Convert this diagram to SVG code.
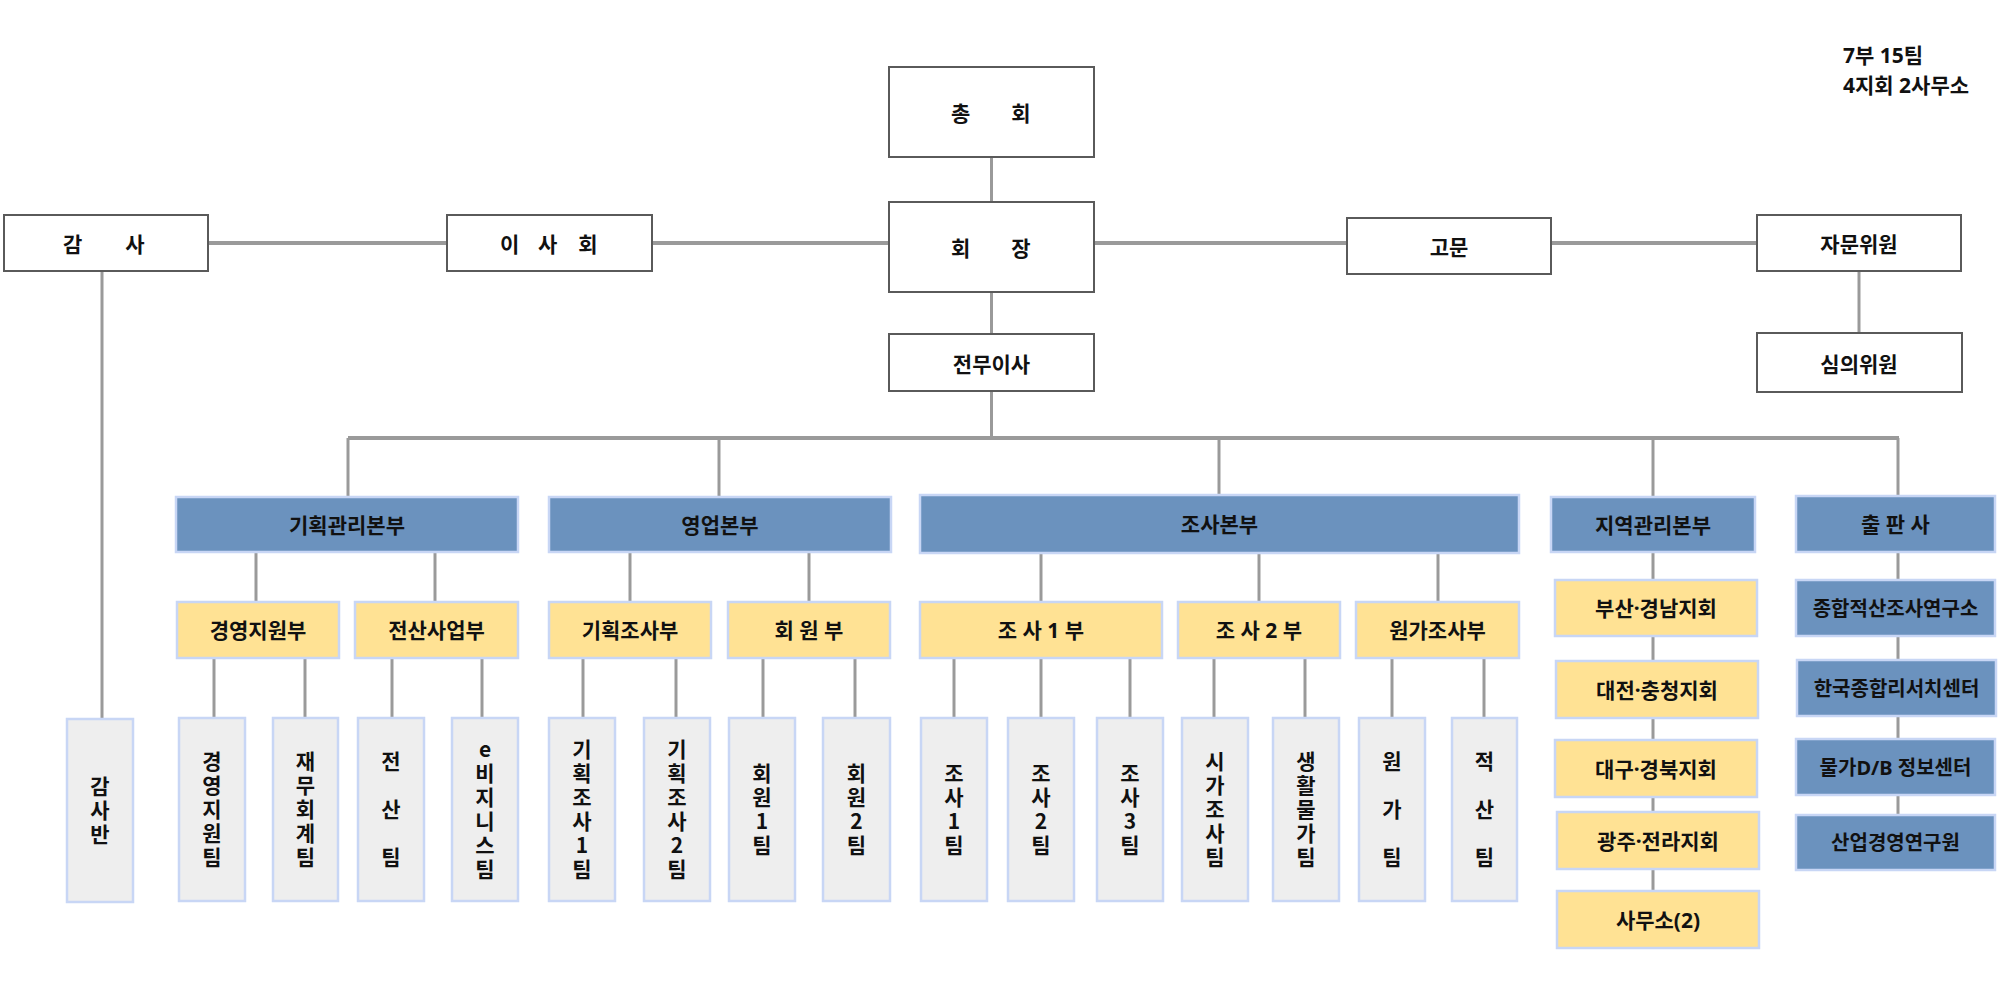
<svg xmlns="http://www.w3.org/2000/svg" width="2000" height="1000" viewBox="0 0 2000 1000">
<style>
text{font-family:"Noto Sans CJK KR","Noto Sans",sans-serif;font-weight:700;fill:#111;text-anchor:middle;dominant-baseline:central}
.t{font-size:21px}
.top rect{fill:#fff;stroke:#5a5a5a;stroke-width:2}
.b rect{fill:#6b92be;stroke:#c8d6f5;stroke-width:2.5}
.y rect{fill:#ffe294;stroke:#c8d6f5;stroke-width:2.5}
.g rect{fill:#eeeeee;stroke:#c8d6f5;stroke-width:2.5}
.b text,.y text{font-size:21px;font-family:"Noto Sans","Noto Sans CJK KR",sans-serif}
.g text{font-size:21px;writing-mode:vertical-rl;text-orientation:upright;letter-spacing:3px}
#connectors line{stroke:#9a9a9a;stroke-width:3}
#connectors line.h{stroke-width:4}
.note{text-anchor:start;dominant-baseline:auto;font-size:21px;font-family:"Noto Sans","Noto Sans CJK KR",sans-serif}
</style>
<rect width="2000" height="1000" fill="#fff"/>
<g id="connectors">
<line x1="991.5" y1="157" x2="991.5" y2="202"/>
<line x1="991.5" y1="292" x2="991.5" y2="334"/>
<line x1="991.5" y1="391" x2="991.5" y2="438"/>
<line class="h" x1="208" y1="243" x2="447" y2="243"/>
<line class="h" x1="652" y1="243" x2="889" y2="243"/>
<line class="h" x1="1094" y1="243" x2="1347" y2="243"/>
<line class="h" x1="1551" y1="243" x2="1757" y2="243"/>
<line x1="1859" y1="271" x2="1859" y2="333"/>
<line x1="102" y1="271" x2="102" y2="718"/>
<line class="h" x1="348" y1="438" x2="1899" y2="438"/>
<line x1="348" y1="438" x2="348" y2="497"/>
<line x1="719" y1="438" x2="719" y2="497"/>
<line x1="1219" y1="438" x2="1219" y2="495"/>
<line x1="1653" y1="438" x2="1653" y2="497"/>
<line x1="1898" y1="438" x2="1898" y2="496"/>
<line x1="256" y1="552" x2="256" y2="602"/>
<line x1="435" y1="552" x2="435" y2="602"/>
<line x1="630" y1="552" x2="630" y2="602"/>
<line x1="809" y1="552" x2="809" y2="602"/>
<line x1="1041" y1="553" x2="1041" y2="602"/>
<line x1="1259" y1="553" x2="1259" y2="602"/>
<line x1="1438" y1="553" x2="1438" y2="602"/>
<line x1="214" y1="658" x2="214" y2="718"/>
<line x1="305" y1="658" x2="305" y2="718"/>
<line x1="392" y1="658" x2="392" y2="718"/>
<line x1="482" y1="658" x2="482" y2="718"/>
<line x1="583" y1="658" x2="583" y2="718"/>
<line x1="676" y1="658" x2="676" y2="718"/>
<line x1="763" y1="658" x2="763" y2="718"/>
<line x1="855" y1="658" x2="855" y2="718"/>
<line x1="954" y1="658" x2="954" y2="718"/>
<line x1="1041" y1="658" x2="1041" y2="718"/>
<line x1="1130" y1="658" x2="1130" y2="718"/>
<line x1="1214" y1="658" x2="1214" y2="718"/>
<line x1="1305" y1="658" x2="1305" y2="718"/>
<line x1="1392" y1="658" x2="1392" y2="718"/>
<line x1="1484" y1="658" x2="1484" y2="718"/>
<line x1="1653" y1="552" x2="1653" y2="891"/>
<line x1="1898" y1="552" x2="1898" y2="815"/>
</g>

<text class="note" x="1843" y="63">7부 15팀</text>
<text class="note" x="1843" y="93">4지회 2사무소</text>

<g id="n-chonghoe" class="top"><rect x="889" y="67" width="205" height="90"/><text class="t" y="112"><tspan x="963">총</tspan> <tspan x="1021">회</tspan></text></g>
<g id="n-hoejang" class="top"><rect x="889" y="202" width="205" height="90"/><text class="t" y="247"><tspan x="963">회</tspan> <tspan x="1021">장</tspan></text></g>
<g id="n-jeonmu" class="top"><rect x="889" y="334" width="205" height="57"/><text class="t" x="991.5" y="362.5">전무이사</text></g>
<g id="n-gamsa" class="top"><rect x="4" y="215" width="204" height="56"/><text class="t" y="243"><tspan x="75">감</tspan> <tspan x="135">사</tspan></text></g>
<g id="n-isahoe" class="top"><rect x="447" y="215" width="205" height="56"/><text class="t" y="243"><tspan x="512">이</tspan> <tspan x="550">사</tspan> <tspan x="588">회</tspan></text></g>
<g id="n-gomun" class="top"><rect x="1347" y="218" width="204" height="56"/><text class="t" x="1449" y="246">고문</text></g>
<g id="n-jamun" class="top"><rect x="1757" y="215" width="204" height="56"/><text class="t" x="1859" y="243">자문위원</text></g>
<g id="n-simui" class="top"><rect x="1757" y="333" width="205" height="59"/><text class="t" x="1859" y="362.5">심의위원</text></g>

<g id="n-gihoekgwanri" class="b"><rect x="176" y="497" width="342" height="55"/><text x="347" y="524.5">기획관리본부</text></g>
<g id="n-yeongeop" class="b"><rect x="549" y="497" width="342" height="55"/><text x="720" y="524.5">영업본부</text></g>
<g id="n-josa" class="b"><rect x="920" y="495" width="599" height="58"/><text x="1219.5" y="524">조사본부</text></g>
<g id="n-jiyeok" class="b"><rect x="1551" y="497" width="204" height="55"/><text x="1653" y="524.5">지역관리본부</text></g>
<g id="n-chulpan" class="b"><rect x="1796" y="496" width="199" height="56"/><text x="1895.5" y="524">출 판 사</text></g>

<g id="n-gyeongyeongjiwonbu" class="y"><rect x="177" y="602" width="162" height="56"/><text x="258" y="630">경영지원부</text></g>
<g id="n-jeonsansaeopbu" class="y"><rect x="355" y="602" width="163" height="56"/><text x="436.5" y="630">전산사업부</text></g>
<g id="n-gihoekjosabu" class="y"><rect x="549" y="602" width="162" height="56"/><text x="630" y="630">기획조사부</text></g>
<g id="n-hoewonbu" class="y"><rect x="728" y="602" width="162" height="56"/><text x="809" y="630">회 원 부</text></g>
<g id="n-josa1bu" class="y"><rect x="920" y="602" width="242" height="56"/><text x="1041" y="630">조 사 1 부</text></g>
<g id="n-josa2bu" class="y"><rect x="1178" y="602" width="162" height="56"/><text x="1259" y="630">조 사 2 부</text></g>
<g id="n-wongajosabu" class="y"><rect x="1356" y="602" width="163" height="56"/><text x="1437.5" y="630">원가조사부</text></g>

<g id="n-busan" class="y"><rect x="1555" y="580" width="202" height="56"/><text x="1656" y="608">부산·경남지회</text></g>
<g id="n-daejeon" class="y"><rect x="1556" y="661" width="202" height="57"/><text x="1657" y="689.5">대전·충청지회</text></g>
<g id="n-daegu" class="y"><rect x="1555" y="740" width="202" height="57"/><text x="1656" y="768.5">대구·경북지회</text></g>
<g id="n-gwangju" class="y"><rect x="1557" y="812" width="202" height="57"/><text x="1658" y="840.5">광주·전라지회</text></g>
<g id="n-samuso" class="y"><rect x="1557" y="891" width="202" height="57"/><text x="1658" y="919.5">사무소(2)</text></g>

<g id="n-jonghapjeoksan" class="b"><rect x="1796" y="580" width="199" height="56"/><text x="1895.5" y="608" style="font-size:20px">종합적산조사연구소</text></g>
<g id="n-hanguk" class="b"><rect x="1797" y="660" width="199" height="56"/><text x="1896.5" y="688" style="font-size:20px">한국종합리서치센터</text></g>
<g id="n-mulga" class="b"><rect x="1796" y="739" width="199" height="56"/><text x="1895.5" y="767" style="font-size:20px">물가D/B 정보센터</text></g>
<g id="n-saneop" class="b"><rect x="1796" y="815" width="199" height="55"/><text x="1895.5" y="842.5" style="font-size:20px">산업경영연구원</text></g>

<g id="n-gamsaban" class="g"><rect x="67" y="719" width="66" height="183"/><text x="100" y="811.5">감사반</text></g>
<g id="n-gyeongyeongjiwontim" class="g"><rect x="179" y="718" width="66" height="183"/><text x="212" y="811">경영지원팀</text></g>
<g id="n-jaemuhoegyetim" class="g"><rect x="273" y="718" width="65" height="183"/><text x="305.5" y="811">재무회계팀</text></g>
<g id="n-jeonsantim" class="g"><rect x="358" y="718" width="66" height="183"/><text x="391" y="811">전 산 팀</text></g>
<g id="n-ebiz" class="g"><rect x="452" y="718" width="66" height="183"/><text x="485" y="811">e비지니스팀</text></g>
<g id="n-gihoekjosa1" class="g"><rect x="549" y="718" width="66" height="183"/><text x="582" y="811">기획조사1팀</text></g>
<g id="n-gihoekjosa2" class="g"><rect x="644" y="718" width="66" height="183"/><text x="677" y="811">기획조사2팀</text></g>
<g id="n-hoewon1" class="g"><rect x="729" y="718" width="66" height="183"/><text x="762" y="811">회원1팀</text></g>
<g id="n-hoewon2" class="g"><rect x="823" y="718" width="67" height="183"/><text x="856.5" y="811">회원2팀</text></g>
<g id="n-josa1tim" class="g"><rect x="921" y="718" width="66" height="183"/><text x="954" y="811">조사1팀</text></g>
<g id="n-josa2tim" class="g"><rect x="1008" y="718" width="66" height="183"/><text x="1041" y="811">조사2팀</text></g>
<g id="n-josa3tim" class="g"><rect x="1097" y="718" width="66" height="183"/><text x="1130" y="811">조사3팀</text></g>
<g id="n-sigajosatim" class="g"><rect x="1182" y="718" width="66" height="183"/><text x="1215" y="811">시가조사팀</text></g>
<g id="n-saenghwalmulgatim" class="g"><rect x="1273" y="718" width="66" height="183"/><text x="1306" y="811">생활물가팀</text></g>
<g id="n-wongatim" class="g"><rect x="1359" y="718" width="66" height="183"/><text x="1392" y="811">원 가 팀</text></g>
<g id="n-jeoksantim" class="g"><rect x="1452" y="718" width="65" height="183"/><text x="1484.5" y="811">적 산 팀</text></g>
</svg>
